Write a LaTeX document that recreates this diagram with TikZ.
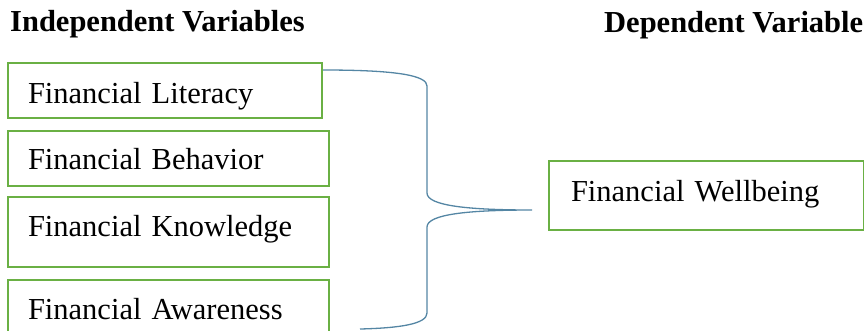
\documentclass[tikz,border=0pt]{standalone}
\usepackage{fontspec}
\setmainfont{Liberation Serif}
\usetikzlibrary{positioning, calc}
\definecolor{boxgreen}{RGB}{106,176,68}
\definecolor{braceblue}{RGB}{84,134,164}

\begin{document}
\begin{tikzpicture}[x=1pt, y=-1pt,
    varbox/.style={draw=boxgreen, line width=2pt, anchor=north west,
        inner xsep=20pt, inner ysep=0pt, align=left,
        font=\fontsize{30.5}{36}\selectfont},
    heading/.style={anchor=base west, inner sep=0pt,
        font=\bfseries\fontsize{30.5}{36}\selectfont},
    brace/.style={braceblue, line width=1.3pt}]

    \useasboundingbox (0,0) rectangle (864,330);

    % Headings
    \node[heading] (indep) at (10,31) {Independent Variables};
    \node[heading] (dep) at (604,32) {Dependent Variable};

    % Independent variables
    \node[varbox, text width=274pt, text height=40pt, text depth=15pt]
        (lit) at (7,62) {Financial Literacy};
    \node[varbox, text width=281pt, text height=38pt, text depth=17pt]
        (beh) at (7,130) {Financial Behavior};
    \node[varbox, text width=281pt, text height=39pt, text depth=31pt]
        (know) at (7,196) {Financial Knowledge};
    \node[varbox, text width=281pt, text height=39pt, text depth=25pt]
        (aware) at (7,279) {Financial Awareness};

    % Dependent variable
    \node[varbox, inner xsep=22pt, text width=271pt, text height=40pt, text depth=29pt]
        (well) at (548,160) {Financial Wellbeing};

    % Brace
    \coordinate (tip) at (532,210);
    \coordinate (braceEnd) at (360,329);
    \draw[brace] ($(lit.north east)+(0,8)$)
        .. controls (400,70) and (427,76) .. (427,86)
        -- (427,193)
        .. controls (427,206) and (470,210) .. (tip)
        .. controls (470,210) and (427,214) .. (427,227)
        -- (427,313)
        .. controls (427,324) and (400,328) .. (braceEnd);

\end{tikzpicture}
\end{document}
